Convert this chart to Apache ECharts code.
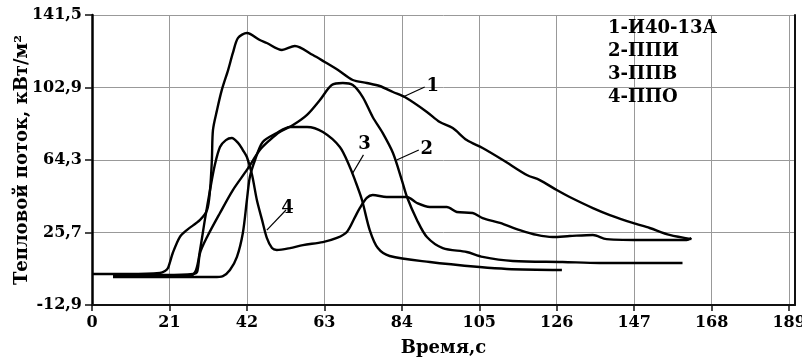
<!DOCTYPE html>
<html>
<head>
<meta charset="utf-8">
<script src="https://cdn.jsdelivr.net/npm/echarts@6/dist/echarts.min.js"></script>
<style>
  html, body {margin: 0; padding: 0; background: #fff;}
  #chart {width: 802px; height: 358px;}
</style>
</head>
<body>
<div id="chart"></div>
<script>
// time, s
const t1 = [0, 10, 18.4, 19.8, 20.6, 21.9, 23.8, 25.7, 29.3, 31.2, 32.0, 32.5, 32.8, 33.9, 35.2, 36.9, 38.2, 39.6, 42.0, 45.5, 47.4, 51.5, 55.0, 59.9, 63.1, 66.7, 70.7, 74.5, 78.0, 81.6, 84.8, 90.8, 94.3, 97.8, 101.6, 105.9, 111.4, 117.9, 121.4, 126.0, 129.5, 135.8, 140.4, 146.6, 151.2, 156.6, 162.5];
const q1 = [3.6, 3.6, 4.1, 5.2, 6.8, 14.8, 23.3, 27.0, 32.4, 37.7, 48.3, 64.3, 80.3, 90.9, 101.6, 112.2, 121.3, 129.3, 131.9, 128.2, 126.6, 122.9, 125.0, 120.2, 116.5, 112.2, 106.9, 105.3, 103.7, 100.5, 97.8, 89.9, 84.5, 81.3, 74.9, 70.7, 64.3, 56.3, 53.6, 48.3, 44.6, 38.7, 35.0, 30.8, 28.1, 24.4, 22.2];

const t2 = [5.7, 20, 27.4, 28.5, 29.3, 31.2, 34.7, 38.2, 42.0, 45.5, 48.2, 50.9, 54.5, 58.3, 61.8, 65.0, 68.0, 70.7, 73.4, 76.1, 78.8, 81.6, 84.0, 85.4, 88.1, 90.8, 95.1, 101.6, 105.9, 114.1, 127.6, 137.6, 160.1];
const q2 = [3.1, 3.1, 3.6, 4.7, 14.8, 23.3, 36.1, 48.3, 59.0, 69.6, 74.9, 79.2, 82.9, 88.3, 96.2, 104.2, 105.3, 104.2, 97.8, 87.2, 78.7, 68.0, 53.6, 44.6, 32.4, 23.3, 17.4, 15.3, 12.7, 10.5, 10.0, 9.5, 9.5];

const t3 = [5.7, 33, 35.5, 37.4, 39.3, 40.9, 42.0, 42.8, 44.2, 46.3, 50.1, 53.7, 58.3, 62.6, 67.2, 69.9, 71.3, 73.2, 75.3, 77.5, 80.7, 91.6, 105.1, 112.5, 127.4];
const q3 = [2.0, 2.0, 2.5, 5.7, 12.7, 25.4, 43.0, 55.2, 64.3, 73.9, 78.7, 81.9, 81.9, 79.2, 71.2, 60.6, 53.6, 43.0, 27.0, 17.4, 13.2, 10.0, 7.3, 6.3, 5.7];

const t4 = [5.7, 26.6, 28.2, 29.3, 30.6, 32.0, 33.3, 34.7, 36.3, 37.9, 39.6, 40.9, 42.0, 43.4, 44.7, 46.1, 47.4, 48.8, 50.1, 53.7, 57.2, 62.6, 66.4, 69.1, 71.3, 72.6, 74.5, 76.1, 79.9, 85.4, 88.1, 91.6, 96.2, 98.9, 103.2, 105.9, 110.6, 116.0, 120.6, 124.9, 129.5, 135.8, 139.5, 150.4, 161.2, 162.5];
const q4 = [2.5, 2.5, 5.7, 16.4, 32.4, 48.3, 61.6, 71.2, 74.9, 76.0, 73.4, 69.6, 65.9, 56.3, 43.0, 32.4, 22.8, 17.4, 16.4, 17.4, 19.0, 20.6, 22.8, 26.0, 33.9, 38.7, 44.1, 45.7, 44.6, 44.6, 41.4, 39.3, 39.3, 36.6, 36.1, 33.4, 30.8, 27.0, 24.4, 23.3, 23.8, 24.4, 22.2, 21.7, 21.7, 22.8];

const names = ['1-И40-13А', '2-ППИ', '3-ППВ', '4-ППО'];
const yTicks = ['-12,9', '25,7', '64,3', '102,9', '141,5'];
const yMin = -12.9;
const yStep = 38.6;
// curve number callouts: [from t, from q, to t, to q]
const callouts = [[84.3, 97.8, 90.2, 103.2], [82.6, 64.3, 88.6, 69.6], [70.7, 57.4, 73.6, 67.0], [47.4, 27.0, 52.6, 37.7]];

const font = '"DejaVu Serif", "Liberation Serif", serif';
const shift = v => v - yMin;

const makeSeries = (i, ts, qs) => ({
  name: names[i],
  type: 'line',
  data: ts.map((t, k) => [t, shift(qs[k])]),
  smooth: 0.3,
  symbol: 'none',
  lineStyle: {color: '#000', width: 2.4},
  markLine: {
    silent: true,
    symbol: 'none',
    lineStyle: {color: '#000', width: 1.2, type: 'solid'},
    label: {
      show: true, position: 'end', formatter: String(i + 1), distance: 2,
      color: '#000', fontFamily: font, fontWeight: 'bold', fontSize: 18
    },
    data: [[
      {coord: [callouts[i][0], shift(callouts[i][1])]},
      {coord: [callouts[i][2], shift(callouts[i][3])]}
    ]]
  }
});

const chart = echarts.init(document.getElementById('chart'));
chart.setOption({
  animation: false,
  backgroundColor: '#fff',
  grid: {left: 92, right: 7, top: 15, bottom: 53, outerBoundsMode: 'none', containLabel: false},
  // y axis title placed by hand: the axis name is pushed too far left in v6
  graphic: [{
    type: 'text',
    x: 22,
    y: 160,
    rotation: Math.PI / 2,
    style: {
      text: 'Тепловой поток, кВт/м²',
      fill: '#000', font: 'bold 18px ' + font,
      align: 'center', verticalAlign: 'middle'
    }
  }],
  legend: {
    data: names,
    orient: 'vertical',
    left: 598,
    top: 14,
    icon: 'none',
    itemWidth: 0,
    itemHeight: 10,
    itemGap: 5,
    selectedMode: false,
    textStyle: {color: '#000', fontFamily: font, fontWeight: 'bold', fontSize: 18, padding: 0}
  },
  xAxis: {
    type: 'value',
    min: 0,
    max: 190.6,
    interval: 21,
    name: 'Время,с',
    nameLocation: 'middle',
    nameGap: 34,
    nameTextStyle: {color: '#000', fontFamily: font, fontWeight: 'bold', fontSize: 18},
    axisLine: {lineStyle: {color: '#111', width: 2}},
    axisTick: {length: 6, lineStyle: {color: '#111', width: 1.5}},
    axisLabel: {
      showMaxLabel: false, margin: 10,
      color: '#000', fontFamily: font, fontWeight: 'bold', fontSize: 16
    },
    splitLine: {show: true, lineStyle: {color: '#999', width: 1}}
  },
  yAxis: [{
    type: 'value',
    min: 0,
    max: yStep * 4,
    interval: yStep,
    axisLine: {show: true, lineStyle: {color: '#000', width: 2.5}},
    axisTick: {show: true, length: 7, lineStyle: {color: '#111', width: 1.5}},
    axisLabel: {
      margin: 10,
      formatter: v => yTicks[Math.round(v / yStep)],
      color: '#000', fontFamily: font, fontWeight: 'bold', fontSize: 16
    },
    splitLine: {show: true, lineStyle: {color: '#999', width: 1}}
  }, {
    type: 'value',
    position: 'right',
    min: 0,
    max: yStep * 4,
    interval: yStep,
    axisLine: {show: true, lineStyle: {color: '#111', width: 2}},
    axisTick: {show: false},
    axisLabel: {show: false},
    splitLine: {show: false}
  }],
  series: [
    makeSeries(0, t1, q1),
    makeSeries(1, t2, q2),
    makeSeries(2, t3, q3),
    makeSeries(3, t4, q4)
  ]
});
</script>
</body>
</html>
